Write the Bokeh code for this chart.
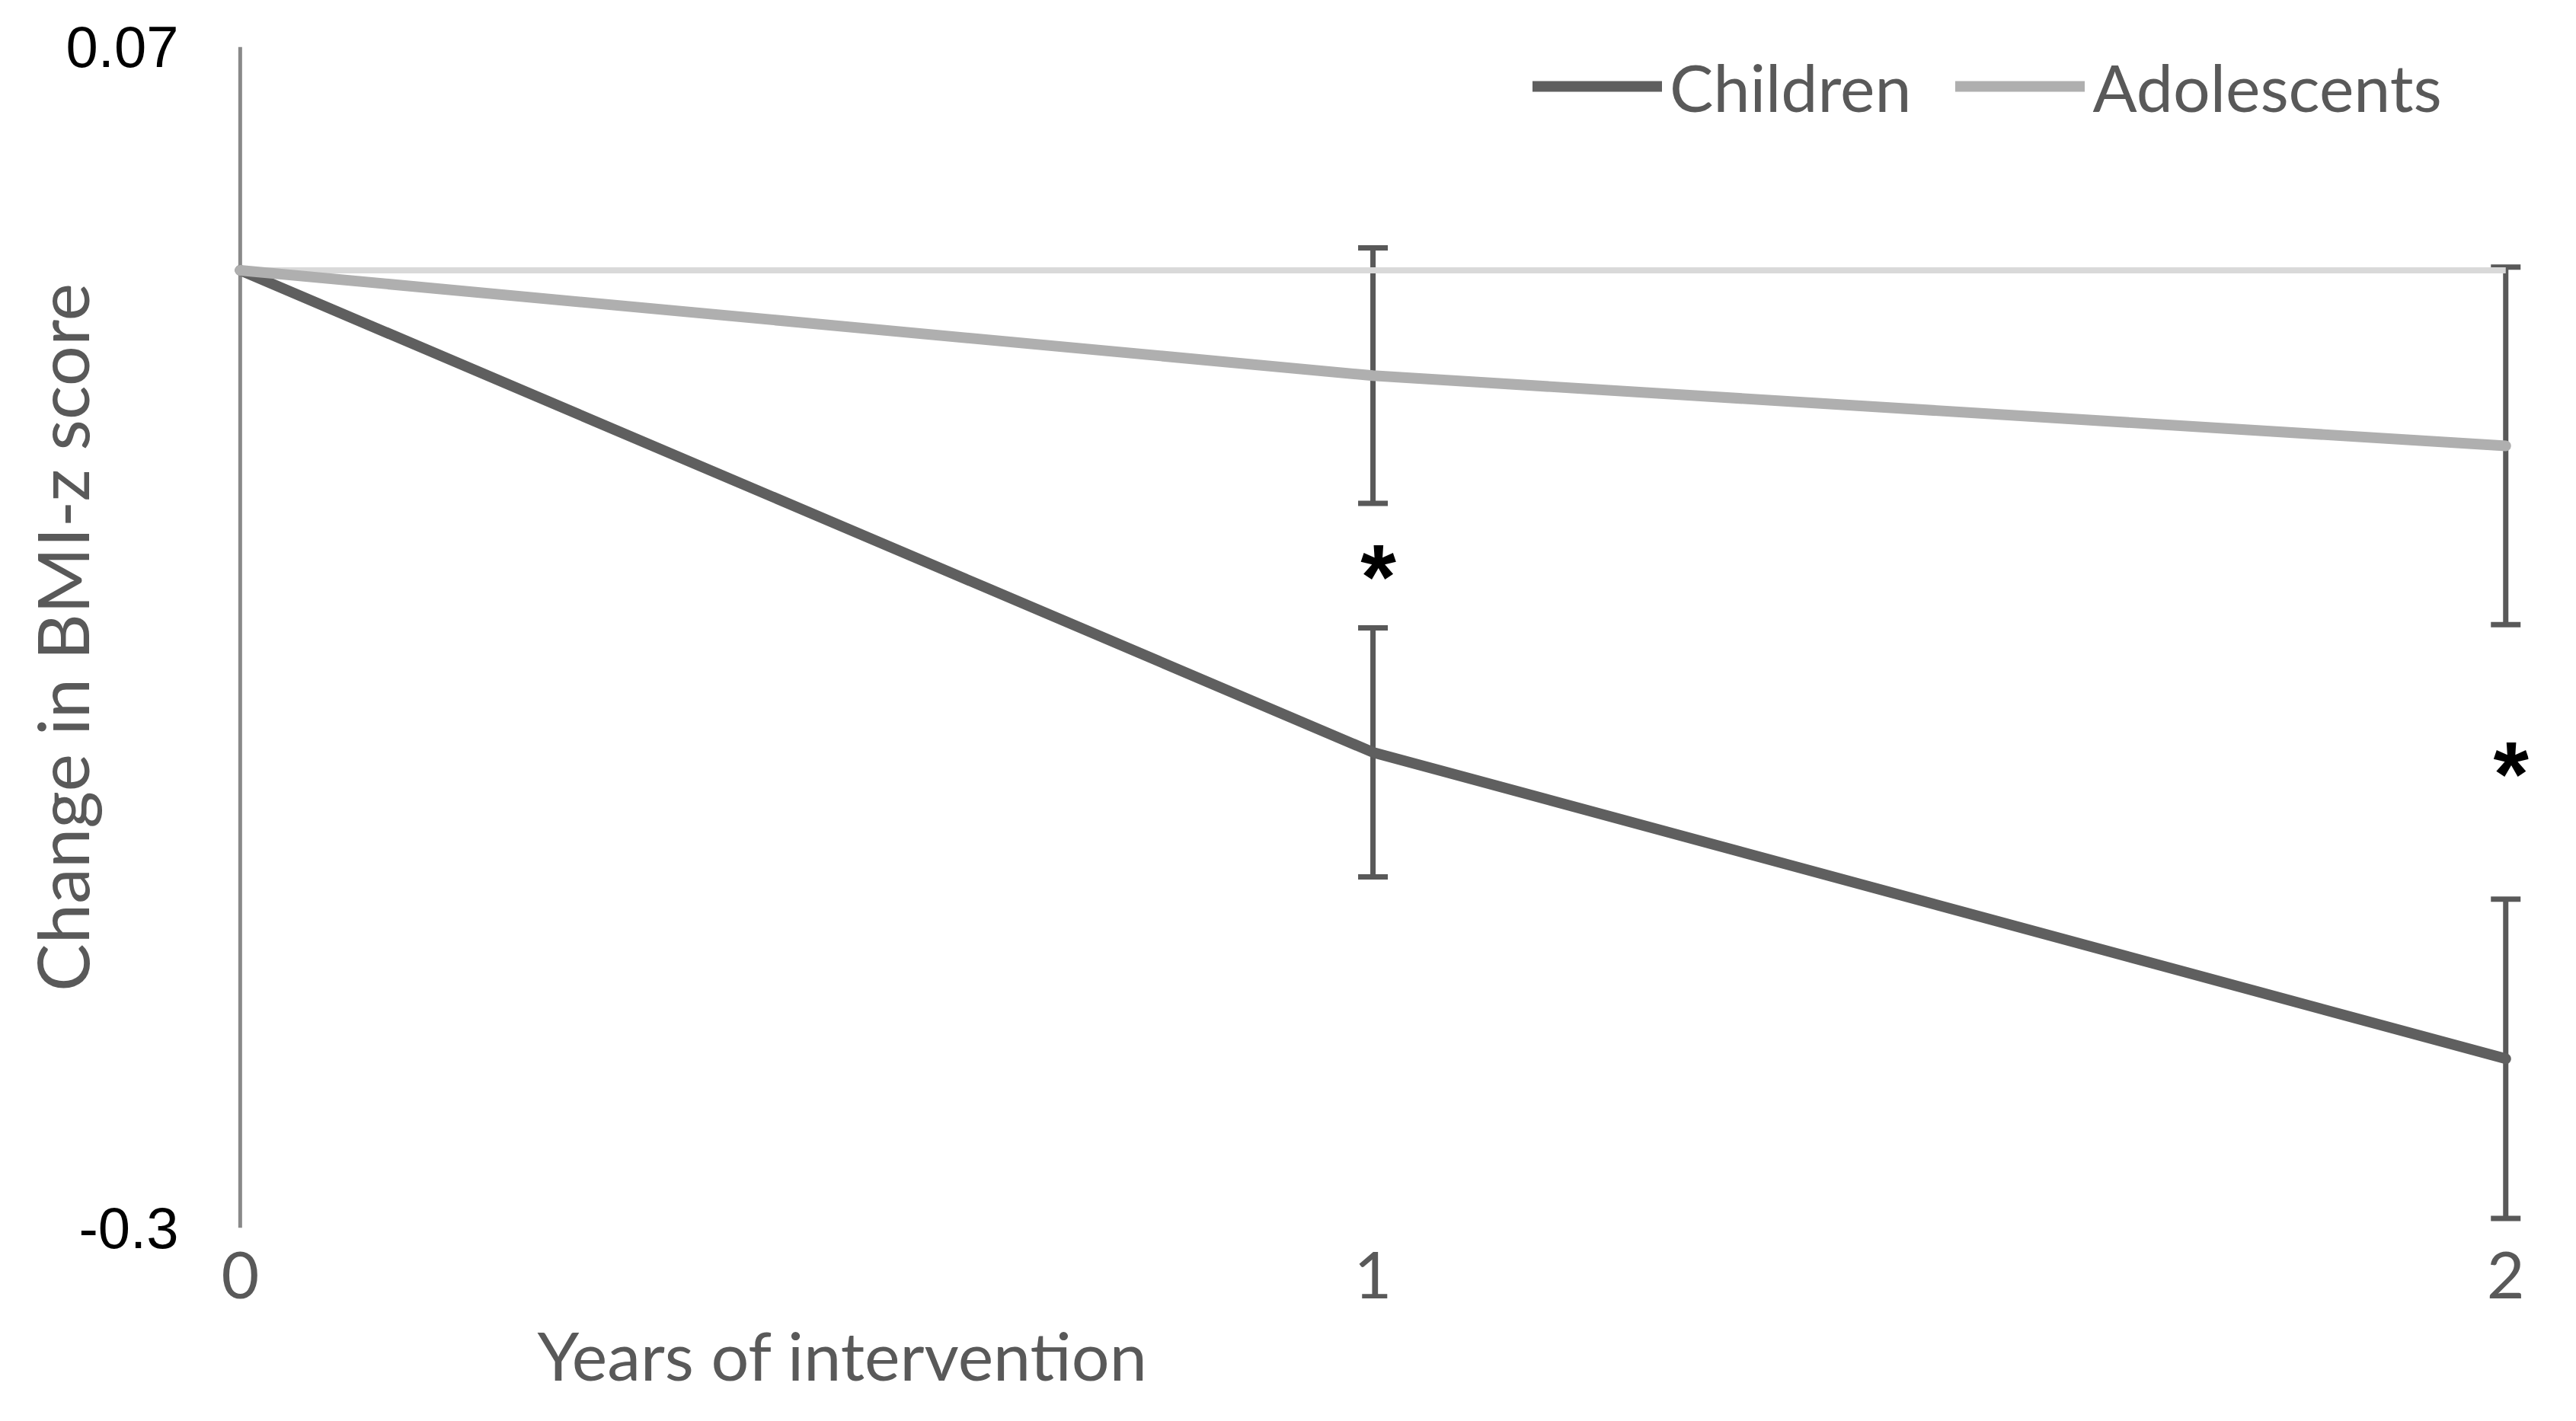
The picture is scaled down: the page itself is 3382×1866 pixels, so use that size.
from bokeh.plotting import figure
from bokeh.models import (Range1d, FixedTicker, Whisker, TeeHead, ColumnDataSource,
                          Legend, LegendItem, Span, Title)
from bokeh.core.properties import value
from bokeh.embed import file_html
from bokeh.resources import INLINE

# ---- data ----
years = [0, 1, 2]
children = [0.0, -0.151, -0.247]
children_err = [0.0, 0.039, 0.050]
adolescents = [0.0, -0.033, -0.055]
adolescents_err = [0.0, 0.040, 0.056]
sig_years = [1, 2]
sig_y = [-0.092, -0.154]
sig_marks = ["*", "*"]
y_ticks = [-0.3, 0.07]
y_tick_labels = ["-0.3", "0.07"]
x_ticks = [0, 1, 2]
series_names = ["Children", "Adolescents"]

GRAY_TEXT = "#595959"

p = figure(width=3366, height=1850, output_backend="svg", toolbar_location=None,
           x_range=Range1d(-0.012, 2.02), y_range=Range1d(y_ticks[0], y_ticks[1]),
           min_border_left=297, min_border_right=47, min_border_top=61,
           min_border_bottom=238)
p.outline_line_color = None
p.grid.visible = False
p.background_fill_color = "white"
p.border_fill_color = "white"

# y axis
p.yaxis.ticker = FixedTicker(ticks=y_ticks)
p.yaxis.major_label_overrides = {t: s for t, s in zip(y_ticks, y_tick_labels)}
p.yaxis.axis_line_color = None
p.yaxis.major_tick_line_color = None
p.yaxis.minor_tick_line_color = None
p.yaxis.major_label_standoff = 57
p.yaxis.major_label_text_font = "Liberation Sans"
p.yaxis.major_label_text_font_size = "76px"
p.yaxis.major_label_text_color = "black"
p.yaxis.axis_label = "Change in BMI-z score"
p.yaxis.axis_label_standoff = -53
p.yaxis.axis_label_text_font = "Lato"
p.yaxis.axis_label_text_font_style = "normal"
p.yaxis.axis_label_text_font_size = "94px"
p.yaxis.axis_label_text_color = GRAY_TEXT

# x axis
p.xaxis.ticker = FixedTicker(ticks=x_ticks)
p.xaxis.axis_line_color = None
p.xaxis.major_tick_line_color = None
p.xaxis.minor_tick_line_color = None
p.xaxis.major_label_standoff = 25
p.xaxis.major_label_text_font = "Lato"
p.xaxis.major_label_text_font_size = "86px"
p.xaxis.major_label_text_color = GRAY_TEXT

# x axis title (offset to the left like the reference)
p.add_layout(Title(text="Years of intervention", align="left", offset=408,
                   standoff=32, text_font="Lato", text_font_size="88px",
                   text_font_style="normal", text_color=GRAY_TEXT), "below")

# vertical axis line at x = 0
p.add_layout(Span(location=years[0], dimension="height", line_color="#898989",
                  line_width=5, level="underlay"))

# horizontal zero line
p.line([years[0], years[-1]], [0, 0], line_color="#d9d9d9", line_width=8)

# series lines
r_c = p.line(years, children, line_color="#5f5f5f", line_width=14,
             line_cap="round", line_join="round")
r_a = p.line(years, adolescents, line_color="#afafaf", line_width=14,
             line_cap="round", line_join="round")

# error bars
wx, wl, wu = [], [], []
for vals, errs in ((children, children_err), (adolescents, adolescents_err)):
    for x, m, e in zip(years, vals, errs):
        if e > 0:
            wx.append(x)
            wl.append(m - e)
            wu.append(m + e)
wsrc = ColumnDataSource(data=dict(x=wx, lower=wl, upper=wu))
p.add_layout(Whisker(base="x", lower="lower", upper="upper", source=wsrc,
                     dimension="height", line_color="#595959", line_width=7,
                     upper_head=TeeHead(size=39, line_color="#595959", line_width=7),
                     lower_head=TeeHead(size=39, line_color="#595959", line_width=7)))

# significance asterisks
p.text(x=sig_years, y=sig_y, text=sig_marks, text_font=value("Liberation Sans"),
       text_font_size="120px", text_font_style="bold", text_align="center",
       text_baseline="middle", x_offset=7, y_offset=16, text_color="black")

# legend
legend = Legend(items=[LegendItem(label=series_names[0], renderers=[r_c]),
                       LegendItem(label=series_names[1], renderers=[r_a])],
                location=(1715, 1444), orientation="horizontal")
legend.background_fill_alpha = 0
legend.border_line_color = None
legend.padding = 0
legend.margin = 0
legend.spacing = 58
legend.glyph_width = 170
legend.glyph_height = 110
legend.label_height = 110
legend.label_standoff = 10
legend.label_text_font = "Lato"
legend.label_text_font_size = "86px"
legend.label_text_color = GRAY_TEXT
p.add_layout(legend)

open("out.html", "w").write(file_html(p, INLINE))
